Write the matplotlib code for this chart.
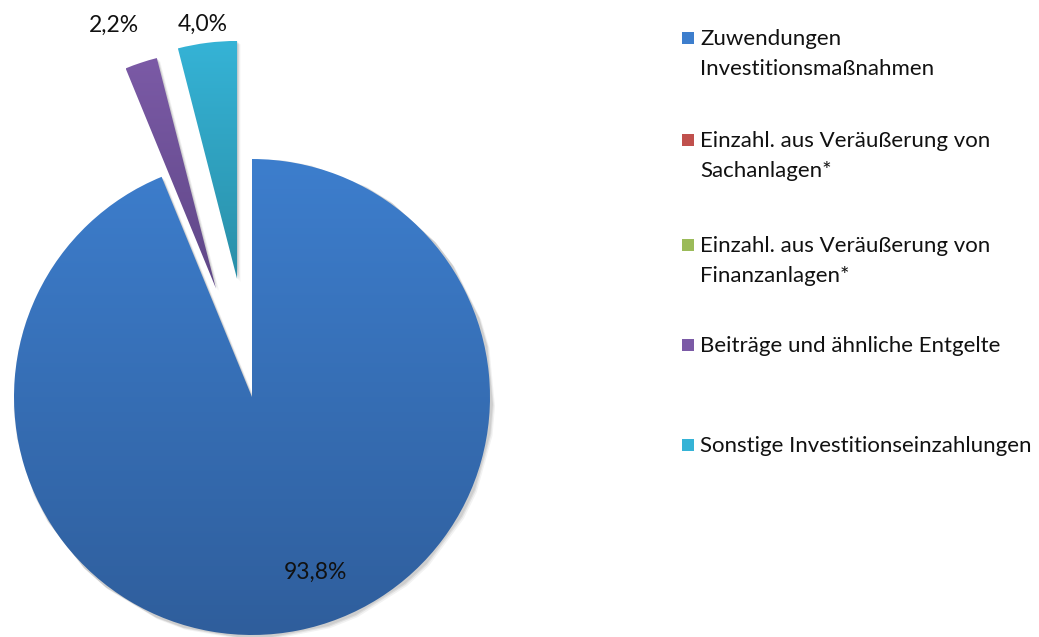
import numpy as np
import matplotlib
matplotlib.use("Agg")
import matplotlib.pyplot as plt
from matplotlib.colors import LinearSegmentedColormap
from matplotlib.patches import Rectangle

# Daten
labels = ['Zuwendungen\nInvestitionsmaßnahmen',
          'Einzahl. aus Veräußerung von\nSachanlagen*',
          'Einzahl. aus Veräußerung von\nFinanzanlagen*',
          'Beiträge und ähnliche Entgelte',
          'Sonstige Investitionseinzahlungen']
werte = [93.8, 0.0, 0.0, 2.2, 4.0]
explode = [0, 0, 0, 0.48, 0.5]
# Farbverlauf oben -> unten
farben_oben = ['#3d7ecd', '#c0504d', '#9bbb59', '#7b5aa6', '#35b3d6']
farben_unten = ['#2f5e9c', '#953b39', '#76923c', '#5f4787', '#2a8fa8']

W, H = 1039, 637
cx, cy, r = 252, 397, 238  # Pixel

plt.rcParams['font.family'] = ['Lato', 'DejaVu Sans']
fig = plt.figure(figsize=(W / 100, H / 100), dpi=100)
ax = fig.add_axes([0, 0, 1, 1])

wedges, _ = ax.pie(werte, startangle=90, counterclock=False, explode=explode,
                   radius=1, center=(0, 0), frame=True)
ax.set_xlim(-cx / r, (W - cx) / r)
ax.set_ylim((cy - H) / r, cy / r)
ax.set_aspect('auto')
ax.axis('off')

grad = np.linspace(0, 1, 256).reshape(-1, 1)
for i, w in enumerate(wedges):
    if werte[i] == 0:
        continue
    w.set_facecolor('none')
    w.set_linewidth(0)
    verts = w.get_path().vertices
    bb = w.get_path().get_extents()
    cmap = LinearSegmentedColormap.from_list('g', [farben_oben[i], farben_unten[i]])
    im = ax.imshow(grad, cmap=cmap, aspect='auto',
                   extent=(bb.x0, bb.x1, bb.y0, bb.y1), origin='upper', zorder=2)
    im.set_clip_path(w)
    # leichter Schatten
    for k, a in [(0.014, 0.05), (0.009, 0.07), (0.005, 0.08)]:
        sh = plt.Polygon(verts + np.array([k, -k]), closed=True,
                         facecolor='#000000', alpha=a, lw=0, zorder=1)
        ax.add_patch(sh)

# Prozentwerte
def fmt(v):
    return f'{v:.1f}%'.replace('.', ',')

lbl_pos = {0: (315, 572), 3: (114, 25), 4: (203, 24)}
for i, (px, py) in lbl_pos.items():
    ax.text((px - cx) / r, (cy - py) / r, fmt(werte[i]), ha='center', va='center',
            fontsize=16.5, color='#111111', zorder=5)

# Legende
eintrag_y = [38, 140, 245, 345, 445]
for i, lab in enumerate(labels):
    y = eintrag_y[i]
    fig.patches.append(Rectangle((682 / W, 1 - (y + 6) / H), 12 / W, 12 / H,
                                 transform=fig.transFigure, facecolor=farben_oben[i],
                                 edgecolor='none'))
    fig.text(700 / W, 1 - (y - 9) / H, lab, ha='left', va='top', fontsize=16,
             color='#111111', linespacing=1.6)

fig.savefig('out.png', dpi=100)
